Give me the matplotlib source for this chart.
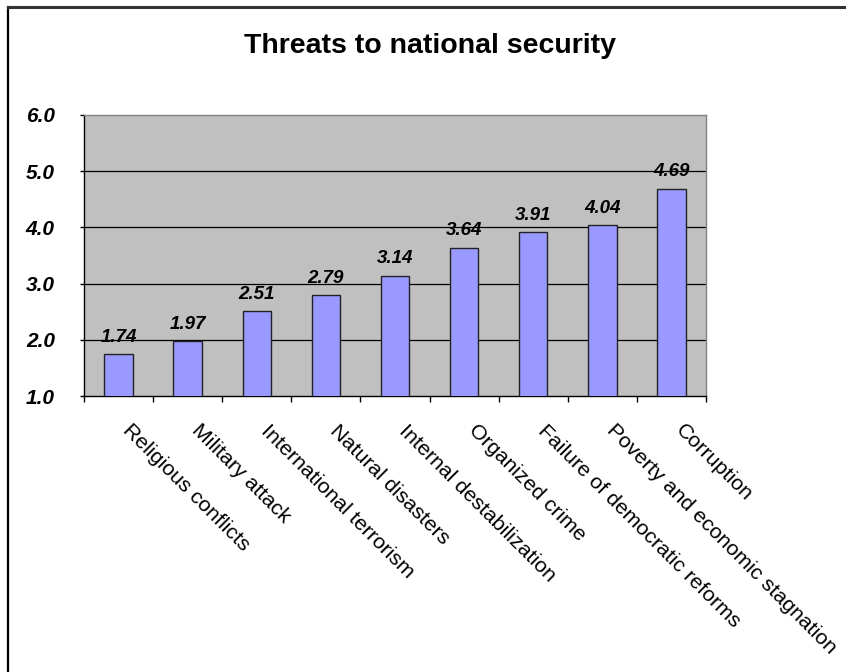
import matplotlib
matplotlib.use("Agg")
import matplotlib.pyplot as plt
from matplotlib.lines import Line2D
from matplotlib.transforms import ScaledTranslation
import numpy as np

categories = ["Religious conflicts", "Military attack", "International terrorism",
              "Natural disasters", "Internal destabilization", "Organized crime",
              "Failure of democratic reforms", "Poverty and economic stagnation",
              "Corruption"]
values = [1.74, 1.97, 2.51, 2.79, 3.14, 3.64, 3.91, 4.04, 4.69]
yticks = [1.0, 2.0, 3.0, 4.0, 5.0, 6.0]

plt.rcParams["font.family"] = ["Liberation Sans", "DejaVu Sans"]

fig = plt.figure(figsize=(8.46, 6.72), dpi=100)
ax = fig.add_axes([84 / 846, 1 - 396 / 672, 622 / 846, 281 / 672])

x = np.arange(len(categories))
ax.bar(x, values, width=0.41, color="#9999FF", edgecolor="#222222", linewidth=1.0, zorder=3)

ax.set_facecolor("#C0C0C0")
ax.set_xlim(-0.5, len(categories) - 0.5)
ax.set_ylim(1, 6)

# gridlines
for yv in yticks[1:-1]:
    ax.axhline(yv, color="black", linewidth=0.9, zorder=1)

# data labels
for xi, v in zip(x, values):
    ax.annotate("%.2f" % v, (xi, v), xytext=(0, 6), textcoords="offset points",
                ha="center", va="bottom", fontsize=13.5, fontweight="bold",
                fontstyle="italic", zorder=4)

ax.set_yticks(yticks)
ax.set_yticklabels(["%.1f" % t for t in yticks], fontsize=15,
                   fontweight="bold", fontstyle="italic")
ax.tick_params(axis="y", direction="out", length=3, width=1, pad=18, color="black")

# category labels at centers, tick marks at boundaries
ax.set_xticks(x)
ax.set_xticklabels(categories, rotation=-45, ha="left", va="top",
                   rotation_mode="anchor", fontsize=15.4)
ax.tick_params(axis="x", which="major", length=0, pad=18)
shift = ScaledTranslation(14 / 100, 0, fig.dpi_scale_trans)
for lab in ax.get_xticklabels():
    lab.set_transform(lab.get_transform() + shift)
ax.set_xticks(np.arange(-0.5, len(categories)), minor=True)
ax.tick_params(axis="x", which="minor", direction="out", length=4, width=1, color="black")

for s in ["left", "bottom"]:
    ax.spines[s].set_color("black")
    ax.spines[s].set_linewidth(1.0)
for s in ["top", "right"]:
    ax.spines[s].set_color("#808080")
    ax.spines[s].set_linewidth(1.0)

fig.text(430 / 846, 1 - 46 / 672, "Threats to national security", ha="center",
         va="center", fontsize=20.5, fontweight="bold")

# chart area border (left and top edges)
fig.add_artist(Line2D([8 / 846, 8 / 846], [0, 1 - 7 / 672], color="black",
                      linewidth=1.6, transform=fig.transFigure))
fig.add_artist(Line2D([8 / 846, 1], [1 - 7 / 672, 1 - 7 / 672], color="#333333",
                      linewidth=2.2, transform=fig.transFigure))

fig.savefig("out.png", dpi=100)
